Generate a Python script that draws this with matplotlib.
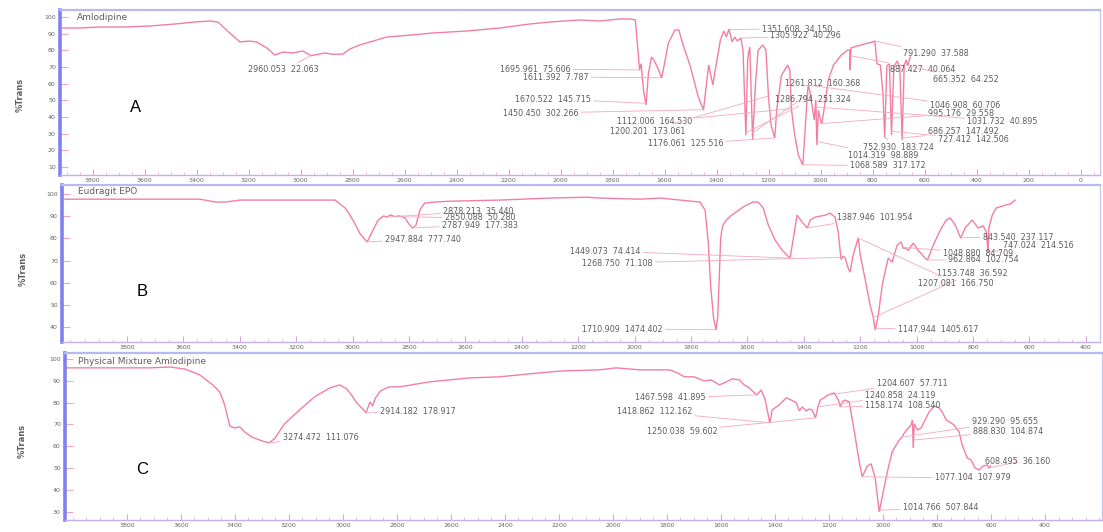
import numpy as np
import matplotlib
matplotlib.use("Agg")
import matplotlib.pyplot as plt
from matplotlib.ticker import MultipleLocator

# ---------------- spectra (wavenumber cm-1, transmittance) ----------------
a_wn = [3915, 3850, 3772, 3676, 3579, 3483, 3406, 3349, 3318, 3272, 3233, 3195, 3168, 3129,
        3099, 3068, 3029, 2991, 2960, 2926, 2906, 2876, 2837, 2810, 2772, 2733, 2668, 2618,
        2491, 2360, 2233, 2118, 2041, 1926, 1849, 1772, 1730, 1712, 1700, 1696, 1690, 1680,
        1671, 1662, 1650, 1640, 1625, 1611, 1600, 1585, 1560, 1545, 1530, 1500, 1470, 1450,
        1440, 1430, 1414, 1405, 1385, 1372, 1362, 1352, 1340, 1330, 1320, 1306, 1298, 1287,
        1280, 1272, 1261, 1250, 1240, 1222, 1210, 1200, 1190, 1176, 1168, 1150, 1126, 1118,
        1112, 1100, 1085, 1068, 1060, 1050, 1047, 1040, 1031, 1024, 1018, 1014, 1008, 1000,
        995, 985, 970, 950, 920, 895, 888, 886, 883, 860, 830, 800, 791, 783, 770, 760, 753,
        745, 735, 727, 718, 705, 695, 686, 678, 670, 665, 655]
a_t = [93.4, 93.4, 94.0, 94.0, 94.6, 95.8, 97.0, 97.6, 97.0, 90.4, 85.0, 85.6, 85.0, 81.4,
       77.2, 79.0, 78.4, 79.6, 76.8, 77.8, 78.4, 77.6, 77.8, 80.8, 83.2, 85.0, 88.0, 88.6,
       90.4, 91.6, 93.4, 95.8, 97.0, 98.2, 97.6, 98.8, 98.8, 98.2, 76.0, 68.2, 72.0, 55.0,
       47.2, 66.0, 76.0, 74.0, 69.0, 63.4, 72.0, 84.4, 92.2, 92.2, 84.0, 70.0, 52.0, 44.2,
       58.0, 71.2, 59.2, 68.0, 86.2, 91.6, 88.0, 92.8, 85.0, 88.0, 85.6, 87.4, 80.0, 29.2,
       75.0, 82.0, 26.2, 60.0, 80.0, 83.2, 80.2, 52.0, 35.0, 27.4, 45.0, 65.0, 71.2, 68.0,
       45.0, 30.0, 17.0, 11.2, 30.0, 55.0, 59.2, 54.4, 45.4, 38.2, 50.2, 23.2, 44.0, 38.0,
       36.0, 46.0, 62.2, 71.2, 77.2, 80.2, 80.2, 68.2, 81.4, 82.6, 83.8, 85.0, 85.6, 72.0,
       71.2, 55.0, 27.4, 70.6, 72.0, 29.2, 70.0, 73.6, 70.0, 26.2, 71.2, 74.2, 70.6, 76.0]

b_wn = [4020, 3718, 3541, 3487, 3452, 3399, 3186, 3062, 3026, 3009, 2991, 2973, 2948, 2931,
        2909, 2890, 2878, 2865, 2850, 2835, 2814, 2800, 2788, 2775, 2760, 2743, 2707, 2654,
        2477, 2299, 2168, 2122, 1980, 1909, 1768, 1750, 1739, 1730, 1720, 1711, 1705, 1700,
        1695, 1688, 1675, 1660, 1640, 1610, 1580, 1562, 1544, 1526, 1502, 1477, 1460, 1449,
        1441, 1424, 1406, 1388, 1377, 1360, 1324, 1307, 1289, 1278, 1268, 1260, 1253, 1243,
        1236, 1225, 1207, 1200, 1182, 1165, 1154, 1147, 1136, 1122, 1101, 1087, 1069, 1055,
        1048, 1041, 1030, 1012, 995, 973, 962, 941, 916, 895, 881, 863, 844, 828, 803, 782,
        764, 753, 747, 744, 732, 718, 686, 668, 651]
b_t = [97.7, 97.7, 97.7, 96.4, 96.4, 97.3, 97.3, 97.3, 93.7, 90.5, 86.5, 82.0, 78.4, 82.8,
       88.3, 90.1, 89.6, 90.6, 89.8, 90.2, 89.2, 86.5, 84.7, 86.0, 93.2, 96.0, 96.4, 96.8,
       97.3, 98.2, 98.6, 98.2, 97.7, 98.2, 96.4, 92.8, 78.4, 58.0, 44.0, 38.7, 45.0, 62.0,
       80.0, 85.6, 88.3, 90.1, 91.9, 94.6, 96.4, 96.4, 93.7, 86.0, 79.3, 74.7, 72.5, 71.1,
       77.0, 90.5, 87.4, 84.7, 88.3, 89.6, 90.5, 91.4, 89.6, 82.9, 70.5, 72.0, 71.1, 66.6,
       64.8, 72.5, 80.2, 72.5, 61.2, 49.9, 44.5, 38.7, 45.4, 59.0, 71.1, 69.3, 77.0, 78.4,
       75.6, 75.6, 74.7, 77.9, 74.7, 71.5, 70.2, 77.0, 83.8, 88.3, 89.2, 86.0, 80.2, 84.7,
       88.3, 84.7, 85.6, 82.9, 73.8, 84.7, 90.5, 93.7, 95.0, 95.5, 97.3]

c_wn = [4025, 3900, 3715, 3641, 3586, 3530, 3482, 3456, 3438, 3419, 3401, 3382, 3364, 3338,
        3300, 3274, 3253, 3216, 3160, 3105, 3049, 3012, 2986, 2968, 2949, 2930, 2914, 2900,
        2890, 2880, 2860, 2830, 2790, 2679, 2531, 2420, 2272, 2187, 2050, 1987, 1902, 1791,
        1761, 1736, 1699, 1662, 1636, 1606, 1580, 1558, 1532, 1514, 1495, 1480, 1467, 1451,
        1436, 1419, 1410, 1384, 1358, 1340, 1321, 1310, 1299, 1284, 1273, 1262, 1250, 1240,
        1232, 1218, 1204, 1181, 1165, 1158, 1150, 1140, 1125, 1107, 1088, 1077, 1058, 1044,
        1029, 1014, 999, 984, 966, 940, 929, 922, 896, 891, 888, 884, 873, 859, 844, 829,
        810, 792, 781, 766, 748, 737, 718, 707, 688, 674, 659, 644, 629, 614, 608, 602]
c_t = [95.9, 95.9, 95.9, 96.3, 95.4, 92.7, 88.1, 84.9, 79.0, 69.3, 68.4, 68.9, 66.6, 64.3,
       62.5, 61.6, 63.5, 70.3, 76.7, 82.6, 86.7, 88.1, 86.3, 83.5, 79.9, 77.5, 75.3, 80.3,
       78.5, 82.0, 85.4, 87.2, 87.2, 89.5, 91.3, 91.8, 93.6, 94.5, 95.0, 95.9, 95.0, 95.0,
       93.6, 91.8, 91.8, 89.9, 90.4, 88.1, 89.5, 90.9, 90.4, 88.1, 86.7, 84.9, 83.5, 85.8,
       81.2, 70.7, 76.7, 79.0, 82.2, 81.2, 79.9, 76.2, 78.0, 76.2, 77.1, 76.5, 73.0, 78.5,
       81.2, 82.2, 83.5, 84.4, 81.2, 78.0, 80.5, 81.2, 80.3, 67.5, 52.9, 46.0, 51.0, 52.0,
       45.6, 30.0, 39.2, 48.3, 57.5, 62.9, 64.3, 66.0, 69.8, 72.1, 59.3, 70.3, 67.5, 68.4,
       72.1, 75.8, 78.5, 77.6, 75.8, 72.1, 70.7, 69.8, 66.6, 60.7, 54.7, 53.8, 50.1, 49.2,
       51.0, 51.5, 50.0, 51.0]

# ---------------- peak labels: text, peak wavenumber, label position (px) ----------------
a_peaks = [("2960.053  22.063", 2960.053, 248, 70),
           ("1695.961  75.606", 1695.961, 500, 69),
           ("1611.392  7.787", 1611.392, 523, 77),
           ("1670.522  145.715", 1670.522, 515, 99),
           ("1450.450  302.266", 1450.450, 503, 113),
           ("1112.006  164.530", 1112.006, 617, 122),
           ("1200.201  173.061", 1200.201, 610, 131),
           ("1176.061  125.516", 1176.061, 648, 144),
           ("1351.608  34.150", 1351.608, 762, 29),
           ("1305.922  40.296", 1305.922, 770, 36),
           ("791.290  37.588", 791.290, 903, 54),
           ("887.427  40.064", 887.427, 890, 69),
           ("665.352  64.252", 665.352, 933, 79),
           ("1261.812  160.368", 1261.812, 785, 84),
           ("1286.794  251.324", 1286.794, 775, 99),
           ("1046.908  60.706", 1046.908, 930, 106),
           ("995.176  29.558", 995.176, 928, 113),
           ("1031.732  40.895", 1031.732, 967, 121),
           ("686.257  147.492", 686.257, 928, 132),
           ("727.412  142.506", 727.412, 938, 139),
           ("752.930  183.724", 752.930, 863, 147),
           ("1014.319  98.889", 1014.319, 848, 155),
           ("1068.589  317.172", 1068.589, 850, 166)]

b_peaks = [("2947.884  777.740", 2947.884, 385, 239),
           ("2878.213  35.440", 2878.213, 443, 211),
           ("2850.088  50.280", 2850.088, 445, 218),
           ("2787.949  177.383", 2787.949, 442, 225),
           ("1449.073  74.414", 1449.073, 570, 251),
           ("1268.750  71.108", 1268.750, 582, 263),
           ("1710.909  1474.402", 1710.909, 582, 329),
           ("1387.946  101.954", 1387.946, 837, 217),
           ("843.540  237.117", 843.540, 983, 237),
           ("747.024  214.516", 747.024, 1003, 246),
           ("1048.880  84.709", 1048.880, 943, 253),
           ("962.864  102.754", 962.864, 948, 260),
           ("1153.748  36.592", 1153.748, 937, 273),
           ("1207.081  166.750", 1207.081, 918, 283),
           ("1147.944  1405.617", 1147.944, 898, 330)]

c_peaks = [("3274.472  111.076", 3274.472, 283, 438),
           ("2914.182  178.917", 2914.182, 380, 412),
           ("1467.598  41.895", 1467.598, 635, 398),
           ("1418.862  112.162", 1418.862, 617, 412),
           ("1250.038  59.602", 1250.038, 647, 431),
           ("1204.607  57.711", 1204.607, 877, 383),
           ("1240.858  24.119", 1240.858, 865, 395),
           ("1158.174  108.540", 1158.174, 865, 406),
           ("929.290  95.655", 929.290, 972, 422),
           ("888.830  104.874", 888.830, 973, 431),
           ("608.495  36.160", 608.495, 985, 462),
           ("1077.104  107.979", 1077.104, 935, 478),
           ("1014.766  507.844", 1014.766, 903, 508)]

titles = ["Amlodipine", "Eudragit EPO", "Physical Mixture Amlodipine"]
letters = ["A", "B", "C"]
y_ticks = [list(range(10, 101, 10)), list(range(40, 101, 10)), list(range(30, 101, 10))]
x_ticks = [list(range(3800, -1, -200)), list(range(3800, 399, -200)), list(range(3800, 399, -200))]

# ---------------- layout ----------------
W, H = 1103, 532
fig = plt.figure(figsize=(W / 100, H / 100), dpi=100)
fig.patch.set_facecolor("white")

CURVE = "#f27fa0"
LEAD = "#f4a8bb"
TXT = "#5e5e5e"

boxes = [(60, 10, 1100, 175), (62, 185, 1100, 342), (65, 353, 1102, 520)]
xlims = [(3925, -75), (4030, 350), (4029, 189)]
ylims = [(5.2, 104.2), (33.25, 104.1), (26.3, 102.7)]
title_pos = [(77, 17), (78, 192), (78, 361)]
letter_pos = [(136, 108), (142, 292), (142, 469)]
ylabel_pos = [(20, 95), (23, 269), (22, 441)]

spectra = [(a_wn, a_t, a_peaks), (b_wn, b_t, b_peaks), (c_wn, c_t, c_peaks)]

for i, (wn, tr, peaks) in enumerate(spectra):
    l, t, r, b = boxes[i]
    ax = fig.add_axes([l / W, 1 - b / H, (r - l) / W, (b - t) / H])
    wn = np.asarray(wn, dtype=float)
    tr = np.asarray(tr, dtype=float)
    ax.plot(wn, tr, color=CURVE, lw=1.0, solid_joinstyle="miter")
    ax.set_xlim(*xlims[i])
    ax.set_ylim(*ylims[i])
    ax.set_xticks(x_ticks[i])
    ax.set_xticklabels([str(v) for v in x_ticks[i]])
    ax.set_yticks(y_ticks[i])
    ax.set_yticklabels([str(v) for v in y_ticks[i]])
    ax.xaxis.set_minor_locator(MultipleLocator(50))

    ax.spines["left"].set_color("#8080f0")
    ax.spines["left"].set_linewidth(2.6)
    ax.spines["top"].set_color("#b8b8f2")
    ax.spines["top"].set_linewidth(1.6)
    ax.spines["right"].set_color("#c8c8f4")
    ax.spines["right"].set_linewidth(1.0)
    ax.spines["bottom"].set_color("#c4b0ec")
    ax.spines["bottom"].set_linewidth(1.0)

    ax.tick_params(axis="y", direction="in", length=6, width=0.8, color="#f2a2c2",
                   labelsize=4.5, labelcolor="#666666", pad=3)
    ax.tick_params(axis="x", which="major", direction="in", length=4, width=0.8,
                   color="#e0a0d8", labelsize=4.5, labelcolor="#666666", pad=2)
    ax.tick_params(axis="x", which="minor", direction="in", length=2, width=0.6,
                   color="#e8b0d8")

    # peak annotations with leader lines to the curve
    order = np.argsort(wn)
    for txt, pk, px, py in peaks:
        ty = float(np.interp(pk, wn[order], tr[order]))
        ax.annotate(txt, xy=(pk, ty), xycoords="data",
                    xytext=(px, H - py), textcoords="figure pixels",
                    ha="left", va="center", fontsize=5.8, color=TXT,
                    annotation_clip=False,
                    arrowprops=dict(arrowstyle="-", color=LEAD, lw=0.6,
                                    shrinkA=0, shrinkB=0))

    tx, tyy = title_pos[i]
    fig.text(tx / W, 1 - tyy / H, titles[i], fontsize=6.5, color=TXT,
             ha="left", va="center")
    lx, ly = letter_pos[i]
    fig.text(lx / W, 1 - ly / H, letters[i], fontsize=12, color="black",
             ha="center", va="center", family="Liberation Sans")
    yx, yy = ylabel_pos[i]
    fig.text(yx / W, 1 - yy / H, "%Trans", fontsize=6, color=TXT, rotation=90,
             ha="center", va="center", weight="bold")

fig.savefig("out.png", dpi=100, facecolor="white")
